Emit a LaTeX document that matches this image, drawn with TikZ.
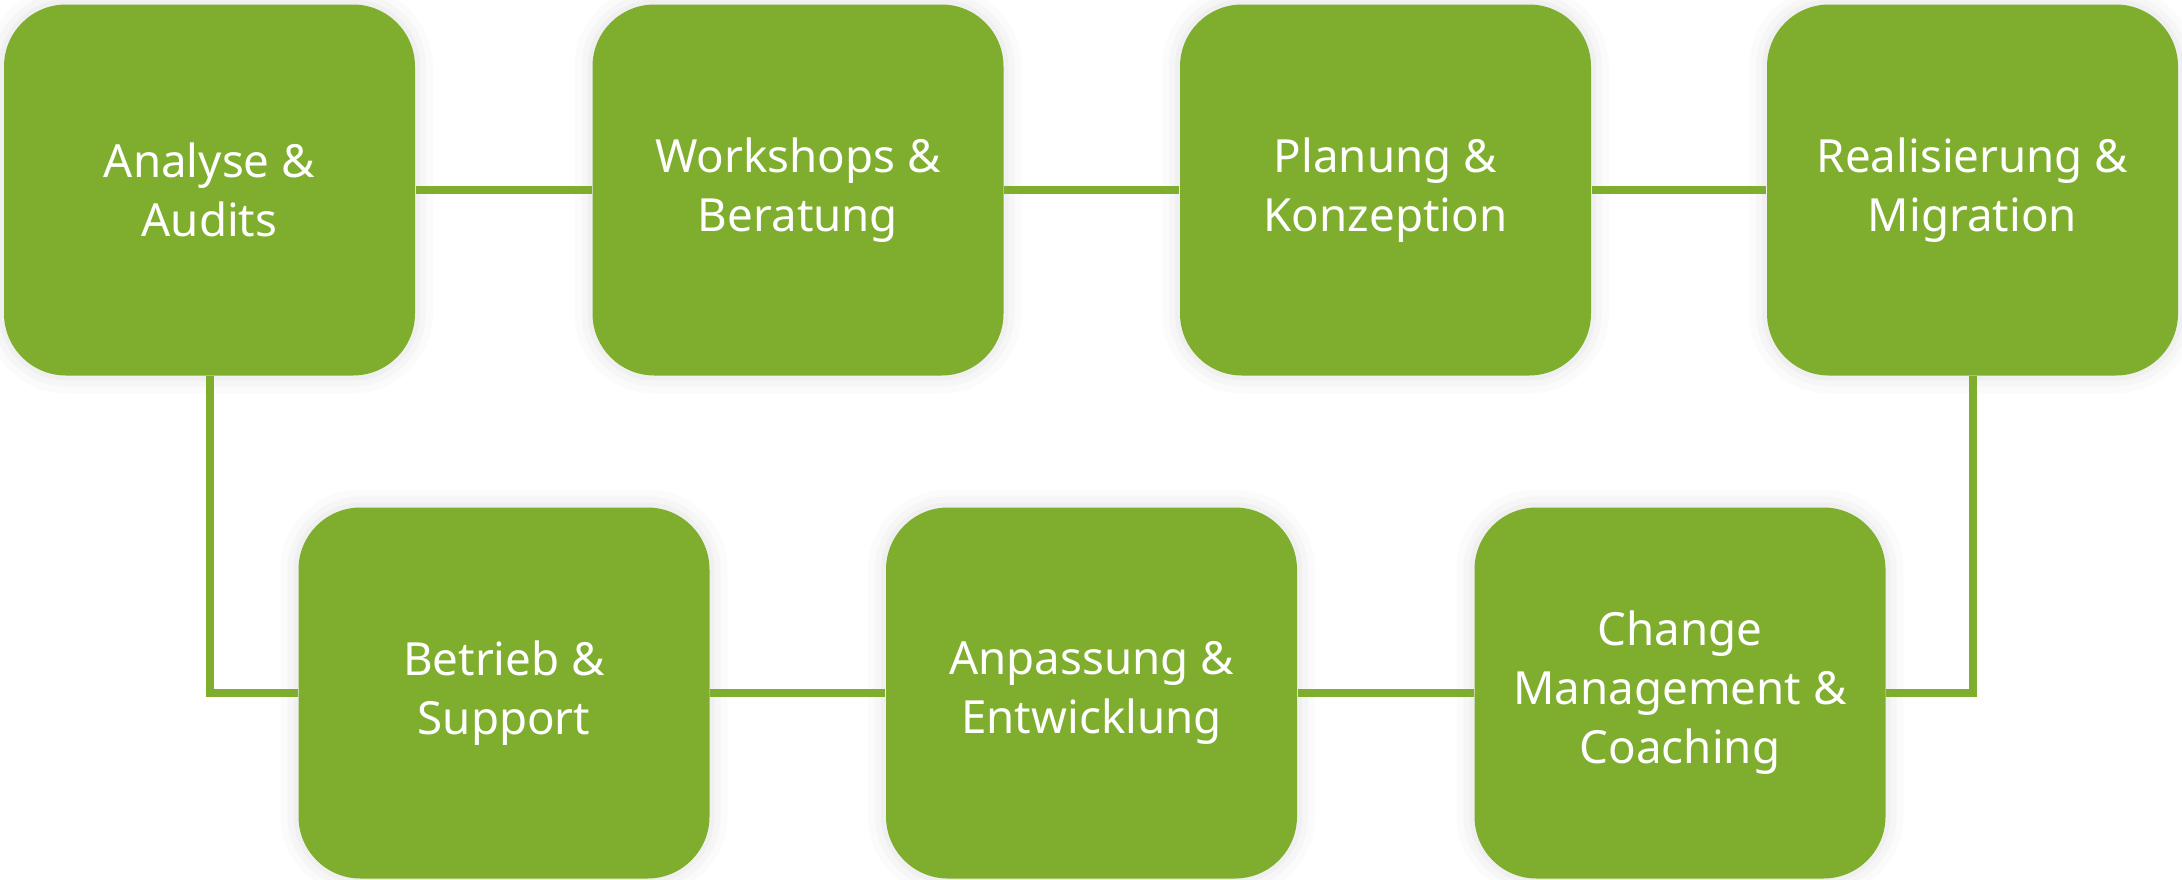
\documentclass[tikz,border=0pt]{standalone}
\usepackage{fontspec}
\setmainfont{Noto Sans}
\definecolor{stepgreen}{HTML}{7FAE2E}
\begin{document}
\begin{tikzpicture}[
		font=\fontsize{13}{16.8}\selectfont
	]
	\tikzset{
		phase/.style = {rectangle, rounded corners=0.62cm, align=center,
			minimum width=4.11cm, minimum height=3.71cm, inner sep=0pt,
			fill=stepgreen, text=white,
			preaction={draw=black, draw opacity=0.015, line width=0.36cm},
			preaction={draw=black, draw opacity=0.02, line width=0.22cm},
			preaction={draw=black, draw opacity=0.025, line width=0.1cm}},
		link/.style = {-, line width=0.08cm, stepgreen},
	}
		\fill[white] (0,0) rectangle (21.82,8.79);
		\useasboundingbox (0,0) rectangle (21.82,8.79);
		%
		\node[phase] at (2.095,6.89) (an) {Analyse \&\\Audits};
		\node[phase] at (7.98,6.89) (wo) {Workshops \&\\Beratung};
		\node[phase] at (13.855,6.89) (pl) {Planung \&\\Konzeption};
		\node[phase] at (19.725,6.89) (re) {Realisierung \&\\Migration};
		%
		\node[phase] at (5.04,1.86) (be) {Betrieb \&\\Support};
		\node[phase] at (10.915,1.86) (ap) {Anpassung \&\\Entwicklung};
		\node[phase] at (16.80,1.86) (ch) {Change\\Management \&\\Coaching};
		%
		\draw[link] (an) -- (wo);
		\draw[link] (wo) -- (pl);
		\draw[link] (pl) -- (re);
		%
		\draw[link] (an.south) |- (be.west);
		\draw[link] (be) -- (ap);
		\draw[link] (ap) -- (ch);
		\draw[link] (re.south) |- (ch.east);
	\end{tikzpicture}
\end{document}
